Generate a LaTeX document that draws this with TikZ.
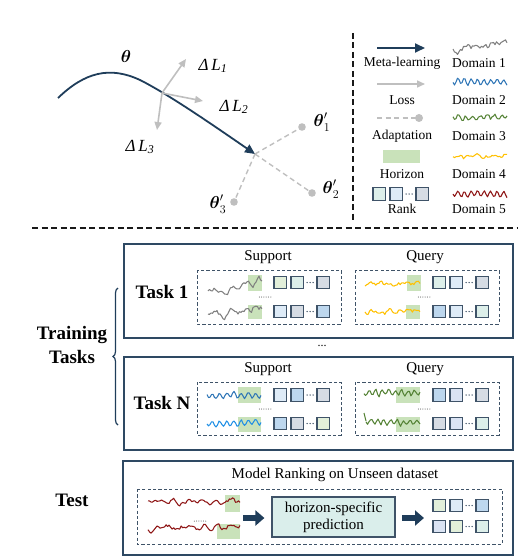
\documentclass[tikz,border=0pt]{standalone}
\usepackage{amsmath}
\usepackage{fontspec}
\setmainfont{Liberation Serif}
\usetikzlibrary{arrows.meta,decorations.pathreplacing,calc}
\definecolor{navy}{HTML}{1F3D5A}
\definecolor{boxc}{HTML}{2E4963}
\definecolor{sqline}{HTML}{3F5368}
\definecolor{lgray}{HTML}{BFBFBF}
\definecolor{hgreen}{HTML}{C9E2BA}
\definecolor{cG}{HTML}{E2EFDA}
\definecolor{cT}{HTML}{DDEFEA}
\definecolor{cL}{HTML}{DEEBF7}
\definecolor{cS}{HTML}{D6DCE4}
\definecolor{cB}{HTML}{BDD7EE}
\definecolor{cV}{HTML}{DAE3F3}
\definecolor{dA}{HTML}{7F7F7F}
\definecolor{dB}{HTML}{2E75B6}
\definecolor{dBb}{HTML}{1F8FE5}
\definecolor{dC}{HTML}{548235}
\definecolor{dD}{HTML}{FFC000}
\definecolor{dE}{HTML}{8E1515}
\definecolor{predfill}{HTML}{DAEEEB}
% wave: x0, ystart, width, colour, seed, noise, sine amp, sine freq, rise
\newcommand\wv[9]{%
  \pgfmathsetseed{#5}%
  \pgfmathtruncatemacro\wvns{#3/1.5}%
  \gdef\wvpath{}\gdef\wvar{0}%
  \foreach \i in {0,...,\wvns}{%
    \pgfmathsetmacro\wvd{\i*#3/\wvns}%
    \pgfmathsetmacro\wvx{#1+\wvd}%
    \pgfmathsetmacro\wvnew{0.6*\wvar+#6*rand}%
    \xdef\wvar{\wvnew}%
    \pgfmathsetmacro\wvy{#2-#9*\wvd/#3+#7*sin(#8*\wvd)+\wvar}%
    \xdef\wvpath{\wvpath(\wvx,\wvy)}%
  }%
  \draw[#4, line width=1.05pt, line join=round] plot coordinates {\wvpath};}
% rank row: x0, ycentre, c1, c2, c3
\newcommand\rrow[5]{%
  \filldraw[sqst, fill=#3] (#1,#2-6.25) rectangle ++(12.5,12.5);
  \filldraw[sqst, fill=#4] (#1+17,#2-6.25) rectangle ++(12.5,12.5);
  \filldraw[sqst, fill=#5] (#1+43,#2-6.25) rectangle ++(12.5,12.5);
  \fill[sqline] (#1+33.2,#2) circle (0.75) (#1+36.2,#2) circle (0.75) (#1+39.2,#2) circle (0.75);}
\newcommand\hz[4]{\fill[hgreen] (#1,#2) rectangle (#3,#4);}
\newcommand\dits[2]{\foreach \k in {0,...,5}{\fill[black!80] (#1-5.75+\k*2.3,#2) circle (0.5);}}
\tikzset{
  sqst/.style={draw=sqline, line width=1.2pt},
  lg/.style={font=\fontsize{13.5}{14}\selectfont, inner sep=0pt},
  lbl/.style={font=\fontsize{15}{16}\selectfont, inner sep=0pt},
  bl/.style={font=\fontsize{19}{24}\selectfont\bfseries, inner sep=0pt, align=center},
  taskbox/.style={draw=boxc, line width=2pt},
  inbox/.style={draw=sqline, line width=1pt, dash pattern=on 3.2pt off 2.2pt},
  sepline/.style={line width=2.2pt, dash pattern=on 6pt off 3.5pt, black!90},
  metaarr/.style={navy, line width=1.8pt, -{Triangle[length=10pt,width=9pt]}},
  lossarr/.style={lgray, line width=1.6pt, -{Triangle[length=8pt,width=7pt]}},
  adapt/.style={lgray, line width=1.4pt, dash pattern=on 5pt off 3.5pt},
  blockarr/.style={navy, line width=5.5pt, -{Triangle[length=9pt,width=15pt]}},
}
\begin{document}
\begin{tikzpicture}[x=1pt,y=-1pt]
\useasboundingbox (0,0) rectangle (518,556);

% ---------------- top: meta-learning sketch ----------------
\coordinate (c0) at (58,98);
\coordinate (j) at (255,154);
\draw[metaarr] (c0) .. controls (85,72) and (110,66) .. (140,80) .. controls (170,95) and (220,130) .. (j);
\node[font=\fontsize{19}{20}\selectfont, inner sep=0pt] (th) at (126,57) {$\boldsymbol{\theta}$};

\coordinate (g) at (162,93);
\coordinate (l1) at (186,59);
\coordinate (l2) at (203,101);
\coordinate (l3) at (157,130);
\draw[lossarr] (g) -- (l1);
\draw[lossarr] (g) -- (l2);
\draw[lossarr] (g) -- (l3);
\node[font=\fontsize{17}{18}\selectfont\itshape, inner sep=0pt] (L1) at (213,66) {Δ\,L\textsubscript{1}};
\node[font=\fontsize{17}{18}\selectfont\itshape, inner sep=0pt] (L2) at (234,107) {Δ\,L\textsubscript{2}};
\node[font=\fontsize{17}{18}\selectfont\itshape, inner sep=0pt] (L3) at (140,147) {Δ\,L\textsubscript{3}};

\coordinate (t1) at (302,127);
\coordinate (t2) at (312,193);
\coordinate (t3) at (234,202);
\draw[adapt] (j) -- (t1);
\draw[adapt] (j) -- (t2);
\draw[adapt] (j) -- (t3);
\fill[lgray] (t1) circle (3.8) (t2) circle (3.8) (t3) circle (3.8);
\node[font=\fontsize{17}{18}\selectfont, inner sep=0pt] (T1) at (322,122) {$\boldsymbol{\theta}'_1$};
\node[font=\fontsize{17}{18}\selectfont, inner sep=0pt] (T2) at (331,189) {$\boldsymbol{\theta}'_2$};
\node[font=\fontsize{17}{18}\selectfont, inner sep=0pt] (T3) at (218,204) {$\boldsymbol{\theta}'_3$};

% separators
\draw[sepline] (353,33) -- (353,220);
\draw[sepline] (32,228) -- (518,228);

% ---------------- legend ----------------
\coordinate (m0) at (377,48); \coordinate (m1) at (425,48);
\draw[metaarr] (m0) -- (m1);
\node[lg] (lm) at (402,63) {Meta-learning};
\coordinate (s0) at (377,84); \coordinate (s1) at (425,84);
\draw[lossarr] (s0) -- (s1);
\node[lg] (ll) at (402,100) {Loss};
\coordinate (a0) at (377,118); \coordinate (a1) at (419,118);
\draw[adapt] (a0) -- (a1);
\fill[lgray] (a1) circle (4);
\node[lg] (la) at (402,136) {Adaptation};
\fill[hgreen] (383,150) rectangle (420,163);
\node[lg] (lh) at (402,174) {Horizon};
\rrow{373}{194}{cT}{cL}{cS}
\node[lg] (lr) at (402,209) {Rank};

\wv{453}{52}{54}{dA}{3}{3.2}{1.5}{22}{12}
\node[lg] (d1) at (479,63) {Domain 1};
\wv{453}{82}{54}{dB}{5}{0.9}{2.8}{55}{0}
\node[lg] (d2) at (479,100) {Domain 2};
\wv{453}{117}{54}{dC}{7}{2}{2.2}{50}{1}
\node[lg] (d3) at (479,136) {Domain 3};
\wv{453}{158}{54}{dD}{9}{1.8}{1}{40}{3}
\node[lg] (d4) at (479,174) {Domain 4};
\wv{453}{194}{54}{dE}{13}{0.8}{2.8}{55}{0}
\node[lg] (d5) at (479,209) {Domain 5};

% ---------------- Task 1 ----------------
\draw[taskbox] (124,244) rectangle (513,338);
\node[bl] (task1) at (162,292) {Task 1};
\node[lbl] (sup1) at (268,257) {Support};
\node[lbl] (qry1) at (425,257) {Query};
\draw[inbox] (197,270) rectangle (341,324);
\draw[inbox] (355,270) rectangle (499,324);
\hz{248}{275}{262}{291}
\hz{248}{305}{262}{319}
\wv{208}{292}{54}{dA}{21}{3}{1.5}{25}{11}
\wv{208}{317}{54}{dA}{23}{3}{1.5}{28}{9}
\rrow{274}{282.5}{cG}{cT}{cS}
\rrow{274}{311.5}{cL}{cS}{cB}
\dits{265}{297}
\hz{407}{275}{421}{291}
\hz{406}{305}{420}{319}
\wv{365}{285}{55}{dD}{31}{1.8}{1}{40}{3}
\wv{365}{312}{55}{dD}{33}{1.8}{1.2}{40}{2}
\rrow{433}{282.5}{cT}{cL}{cS}
\rrow{433}{311.5}{cB}{cL}{cT}
\dits{424}{297}

\node[font=\fontsize{12}{12}\selectfont, inner sep=0pt] (vd) at (322,346) {...};

% ---------------- Task N ----------------
\draw[taskbox] (124,357) rectangle (513,450);
\node[bl] (taskN) at (162,403) {Task N};
\node[lbl] (sup2) at (268,369) {Support};
\node[lbl] (qry2) at (425,369) {Query};
\draw[inbox] (197,382) rectangle (341,435);
\draw[inbox] (355,382) rectangle (499,435);
\hz{238}{387}{261}{403}
\hz{238}{417}{261}{432}
\wv{207}{395}{54}{dB}{41}{1}{2.6}{50}{0}
\wv{207}{423}{54}{dBb}{43}{1}{2.6}{50}{0}
\rrow{274}{395}{cL}{cB}{cS}
\rrow{274}{423.5}{cB}{cS}{cG}
\dits{265}{409}
\hz{396}{387}{420}{403}
\hz{396}{417}{420}{432}
\wv{364}{393}{56}{dC}{51}{1.4}{2.8}{55}{0}
\draw[dC, line width=1.05pt] (364,413) -- (366,421);
\wv{366}{422}{54}{dC}{53}{1.4}{2.8}{55}{0}
\rrow{433}{395}{cB}{cV}{cS}
\rrow{433}{423.5}{cS}{cV}{cT}
\dits{424}{409}

% brace and training label
\draw[navy, line width=1.2pt, decorate, decoration={brace, amplitude=5pt}] (118,425) -- (118,288);
\node[bl] (train) at (72,345) {Training\\Tasks};

% ---------------- Test ----------------
\draw[taskbox] (123,461) rectangle (513,555);
\node[bl] (test) at (72,500) {Test};
\node[lbl] (mr) at (335,475) {Model Ranking on Unseen dataset};
\draw[inbox] (137,489) rectangle (502,544);
\hz{225}{495}{240}{512}
\hz{217}{524}{240}{539}
\wv{148}{502}{92}{dE}{61}{2}{1.5}{25}{1}
\wv{148}{528}{92}{dE}{63}{2}{1.5}{30}{1}
\dits{200}{521}
\node[draw=sqline, line width=1.2pt, fill=predfill, minimum width=123pt, minimum height=40pt, align=center, font=\fontsize{15}{17}\selectfont, inner sep=0pt] (pred) at (333.5,517) {horizon-specific\\prediction};
\coordinate (b0) at (243,518);
\coordinate (b2) at (402,518);
\draw[blockarr] (b0) -- ($(pred.west)+(-7,1)$);
\draw[blockarr] (b2) -- ++(22,0);
\rrow{433}{505.5}{cG}{cL}{cB}
\rrow{433}{526.5}{cV}{cG}{cT}
\end{tikzpicture}
\end{document}
